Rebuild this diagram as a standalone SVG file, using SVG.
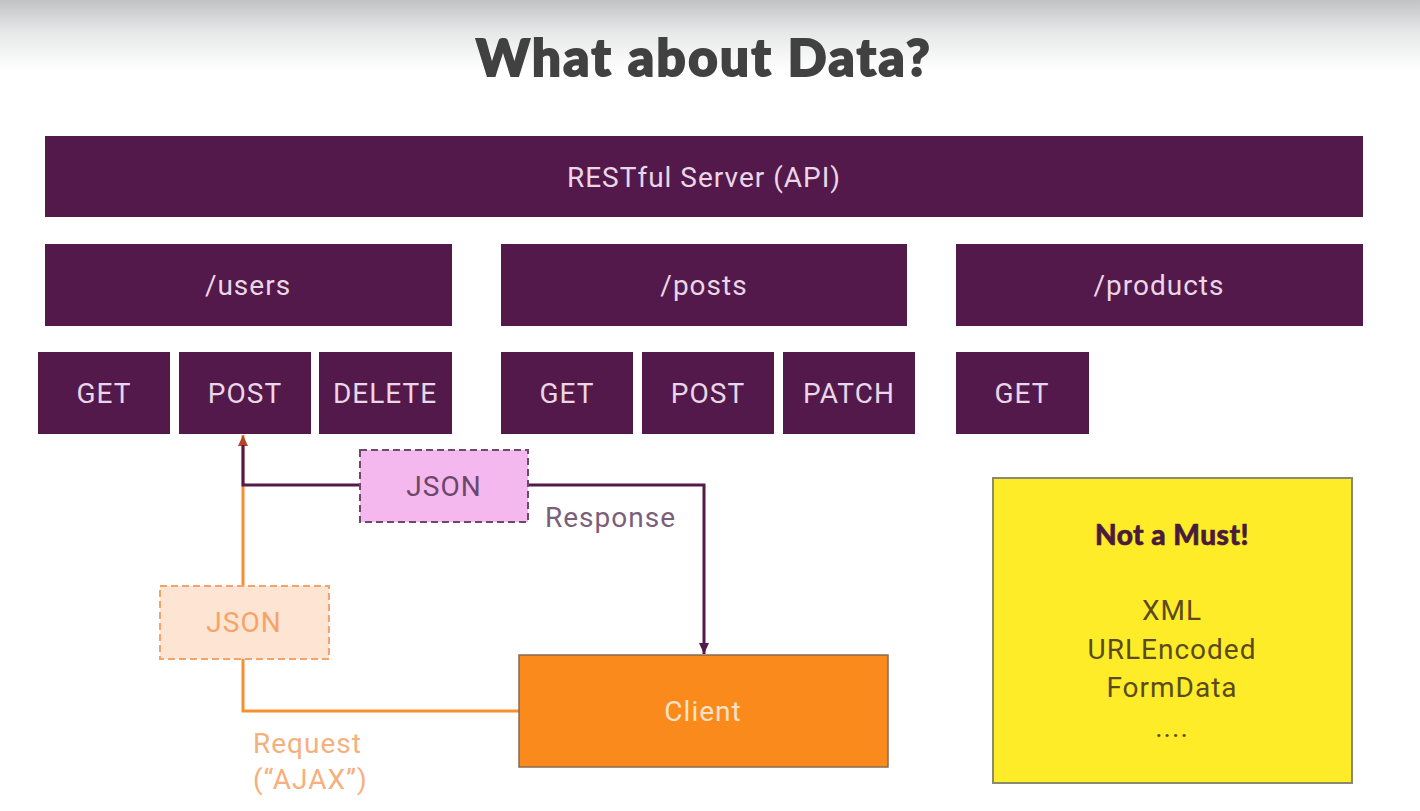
<svg xmlns="http://www.w3.org/2000/svg" width="1420" height="811" viewBox="0 0 1420 811">
<defs>
<linearGradient id="topfade" x1="0" y1="0" x2="0" y2="1">
<stop offset="0" stop-color="#c2c3c4"/>
<stop offset="0.45" stop-color="#e6e7e7"/>
<stop offset="1" stop-color="#ffffff"/>
</linearGradient>
<marker id="arrP" markerWidth="12" markerHeight="12" refX="11" refY="6" orient="auto" markerUnits="userSpaceOnUse">
<path d="M0,1 L11,6 L0,11 z" fill="#541a4a"/>
</marker>
<marker id="arrO" markerWidth="12" markerHeight="12" refX="11" refY="6" orient="auto" markerUnits="userSpaceOnUse">
<path d="M0,1 L11,6 L0,11 z" fill="#b5452a"/>
</marker>
</defs>
<style>
.box{fill:#54194b;}
.bt{font-family:Roboto,"Liberation Sans",sans-serif;font-size:28px;letter-spacing:1px;fill:#e9d6e6;text-anchor:middle;dominant-baseline:central;}
.title{font-family:Lato,"Liberation Sans",sans-serif;font-weight:900;font-size:51px;fill:#414141;stroke:#414141;stroke-width:2;text-anchor:middle;letter-spacing:2.5px;}
.lbl{font-family:Roboto,"Liberation Sans",sans-serif;font-size:28px;letter-spacing:1px;}
.yt{font-family:Roboto,"Liberation Sans",sans-serif;font-size:28px;letter-spacing:1px;fill:#5b4a1c;text-anchor:middle;}
</style>
<rect x="0" y="0" width="1420" height="811" fill="#ffffff"/>
<rect x="0" y="0" width="1420" height="70" fill="url(#topfade)"/>
<text class="title" x="704" y="76">What about Data?</text>

<g id="server"><rect class="box" x="45" y="136" width="1318" height="81"/><text class="bt" x="704" y="177">RESTful Server (API)</text></g>
<g id="users"><rect class="box" x="45" y="244" width="407" height="82"/><text class="bt" x="248" y="285">/users</text></g>
<g id="posts"><rect class="box" x="501" y="244" width="406" height="82"/><text class="bt" x="704" y="285">/posts</text></g>
<g id="products"><rect class="box" x="956" y="244" width="407" height="82"/><text class="bt" x="1159" y="285">/products</text></g>

<g id="users-get"><rect class="box" x="38" y="352" width="132" height="82"/><text class="bt" x="104" y="393">GET</text></g>
<g id="users-post"><rect class="box" x="179" y="352" width="132" height="82"/><text class="bt" x="245" y="393">POST</text></g>
<g id="users-delete"><rect class="box" x="319" y="352" width="133" height="82"/><text class="bt" x="385" y="393">DELETE</text></g>
<g id="posts-get"><rect class="box" x="501" y="352" width="132" height="82"/><text class="bt" x="567" y="393">GET</text></g>
<g id="posts-post"><rect class="box" x="642" y="352" width="132" height="82"/><text class="bt" x="708" y="393">POST</text></g>
<g id="posts-patch"><rect class="box" x="783" y="352" width="132" height="82"/><text class="bt" x="849" y="393">PATCH</text></g>
<g id="products-get"><rect class="box" x="956" y="352" width="133" height="82"/><text class="bt" x="1022" y="393">GET</text></g>

<g id="connectors" fill="none" stroke-width="3">
<path d="M519,711 H243 V435" stroke="#f7902e" marker-end="url(#arrO)"/>
<path d="M243,445 V485 H704 V654" stroke="#541a4a" marker-end="url(#arrP)"/>
</g>

<g id="json-response"><rect x="360" y="450" width="168" height="72" fill="#f4b8ee" stroke="#6e4a6a" stroke-width="2" stroke-dasharray="7,4"/><text class="bt" x="444" y="486" style="fill:#6b4769">JSON</text></g>
<g id="json-request"><rect x="160" y="586" width="169" height="73" fill="#fde4d3" stroke="#f3a46a" stroke-width="2" stroke-dasharray="7,4"/><text class="bt" x="244" y="622" style="fill:#f4a46a">JSON</text></g>

<text class="lbl" x="545" y="527" fill="#7b5f7a">Response</text>
<text class="lbl" x="253" y="753" fill="#f5b07e">Request</text>
<text class="lbl" x="253" y="789" fill="#f5b07e">(“AJAX”)</text>

<g id="client"><rect x="519" y="655" width="369" height="112" fill="#f98a1b" stroke="#8a6a50" stroke-width="1.5"/><text class="bt" x="703" y="711" style="fill:#fde2c8">Client</text></g>

<g id="note"><rect x="993" y="478" width="359" height="305" fill="#ffec29" stroke="#8a8a70" stroke-width="2"/>
<text x="1172" y="545" text-anchor="middle" font-family="Lato,'Liberation Sans',sans-serif" font-weight="900" font-size="28" letter-spacing="0.5" stroke="#4a1b3a" stroke-width="0.6" fill="#4a1b3a">Not a Must!</text>
<text class="yt" x="1172" y="620">XML</text>
<text class="yt" x="1172" y="659">URLEncoded</text>
<text class="yt" x="1172" y="697">FormData</text>
<text class="yt" x="1172" y="737">....</text>
</g>
</svg>
